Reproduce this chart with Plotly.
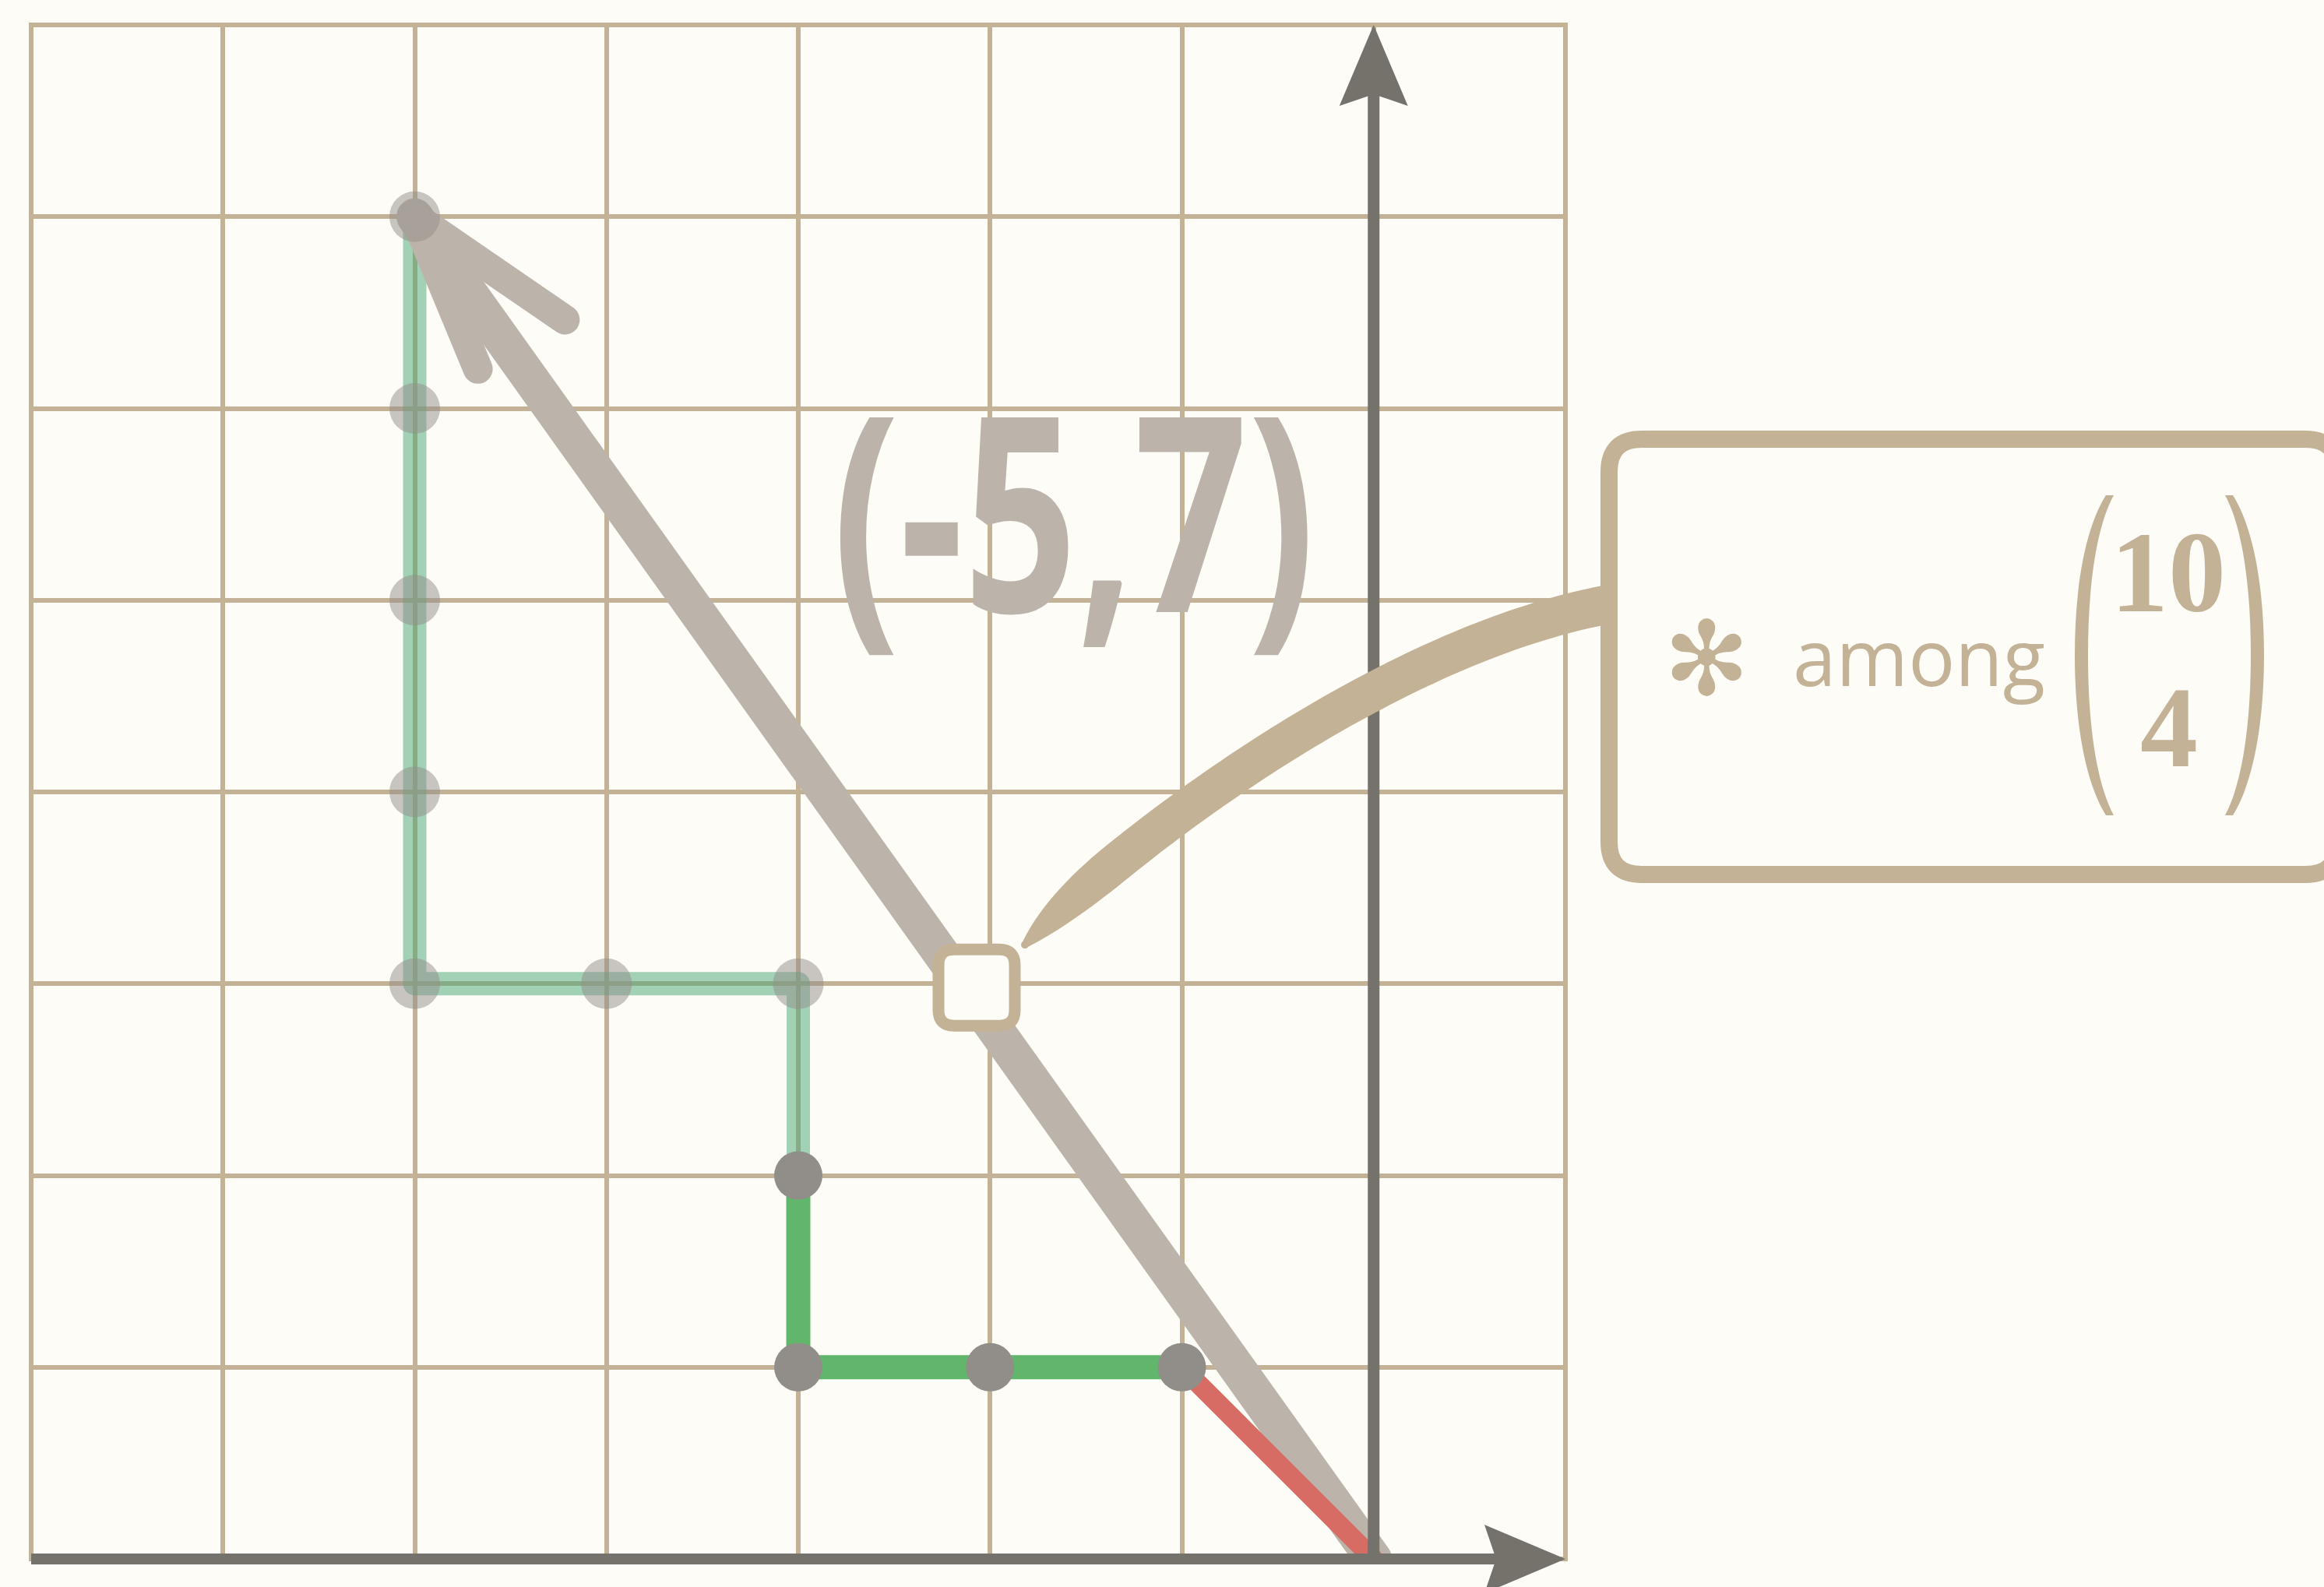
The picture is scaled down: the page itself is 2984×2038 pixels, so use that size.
import numpy as np
import plotly.graph_objects as go

# ---------------- data ----------------
x_range = [-7, 1]
y_range = [0, 8]
grid_x = list(range(-7, 2))
grid_y = list(range(0, 9))

visited_path_x = [-5, -5, -5, -5, -5, -4, -3, -3]
visited_path_y = [7, 6, 5, 4, 3, 3, 3, 2]
visited_dots_x = [-5, -5, -5, -5, -5, -4, -3]
visited_dots_y = [7, 6, 5, 4, 3, 3, 3]

current_path_x = [-3, -3, -2, -1]
current_path_y = [2, 1, 1, 1]
current_dots_x = [-3, -3, -2, -1]
current_dots_y = [2, 1, 1, 1]

final_step_x = [-1, 0]
final_step_y = [1, 0]

vector_x = [0, -5]
vector_y = [0, 7]
vector_label = "(-5,7)"

note_symbol = "\u273B"
note_word = "among"
binom_top = "10"
binom_bottom = "4"

# ---------------- style / layout constants ----------------
W, H = 2984, 2038
PL, PT, PS = 40, 32, 1970          # plot-area left, top, size (square)
BG = "#fefcf7"
TAN = "#c4b296"
DARK = "#75716b"
ARROW = "#bcb4ab"
DOT = "#918e89"
DOT_FADED = "rgba(145,142,137,0.5)"
GREEN = "#62b66b"
GREEN_FADED = "rgba(72,165,118,0.5)"
RED = "#d76c64"

label_pos = (-1.566, 5.49)
callout_anchor = (-2.07, 2.98)


def d2px(x, y):
    px = PL + (x - x_range[0]) / (x_range[1] - x_range[0]) * PS
    py = PT + (y_range[1] - y) / (y_range[1] - y_range[0]) * PS
    return px, py


def p2paper(px, py):
    return (px - PL) / PS, (PT + PS - py) / PS


def mkpath(cmds, close=True):
    out = []
    for c, pts in cmds:
        coords = " ".join("%.5f,%.5f" % p2paper(*p) for p in pts)
        out.append(c + coords)
    s = " ".join(out)
    return s + (" Z" if close else "")


def rrect(x0, y0, x1, y1, r):
    return mkpath([
        ("M", [(x0 + r, y0)]), ("L", [(x1 - r, y0)]), ("Q", [(x1, y0), (x1, y0 + r)]),
        ("L", [(x1, y1 - r)]), ("Q", [(x1, y1), (x1 - r, y1)]),
        ("L", [(x0 + r, y1)]), ("Q", [(x0, y1), (x0, y1 - r)]),
        ("L", [(x0, y0 + r)]), ("Q", [(x0, y0), (x0 + r, y0)]),
    ])


fig = go.Figure()

# faded (already visited) lattice path
fig.add_trace(go.Scatter(x=visited_path_x, y=visited_path_y, mode="lines",
                         line=dict(color=GREEN_FADED, width=30), hoverinfo="skip"))

# the big vector arrow (shaft + two barbs computed from the vector)
fig.add_trace(go.Scatter(x=vector_x, y=vector_y, mode="lines",
                         line=dict(color=ARROW, width=47), hoverinfo="skip"))
hx, hy = vector_x[1], vector_y[1]
back = np.degrees(np.arctan2(vector_y[0] - hy, vector_x[0] - hx))
for dang, ln in [(20, 0.95), (-13, 0.86)]:
    a = np.radians(back + dang)
    fig.add_trace(go.Scatter(x=[hx, hx + ln * np.cos(a)], y=[hy, hy + ln * np.sin(a)],
                             mode="lines", line=dict(color=ARROW, width=38), hoverinfo="skip"))

# current lattice path
fig.add_trace(go.Scatter(x=current_path_x, y=current_path_y, mode="lines",
                         line=dict(color=GREEN, width=31), hoverinfo="skip"))
# final step
fig.add_trace(go.Scatter(x=final_step_x, y=final_step_y, mode="lines",
                         line=dict(color=RED, width=25), hoverinfo="skip"))
# dots
fig.add_trace(go.Scatter(x=visited_dots_x, y=visited_dots_y, mode="markers",
                         marker=dict(color=DOT_FADED, size=65, line=dict(width=0)),
                         cliponaxis=False, hoverinfo="skip"))
fig.add_trace(go.Scatter(x=current_dots_x, y=current_dots_y, mode="markers",
                         marker=dict(color=DOT, size=62, line=dict(width=0)),
                         cliponaxis=False, hoverinfo="skip"))

shapes = []
# plot border
shapes.append(dict(type="rect", xref="paper", yref="paper", x0=0, y0=0, x1=1, y1=1,
                   line=dict(color=TAN, width=6), layer="below"))

# axes (dark, with arrowheads)
ox, oy = d2px(0, 0)
tx, ty = d2px(x_range[1], 0)
ux, uy = d2px(0, y_range[1])
AL, AW, AN = 104, 44, 89
x0p, y0p = p2paper(PL, oy)
x1p, _ = p2paper(tx - AN, oy)
shapes.append(dict(type="line", xref="paper", yref="paper", x0=x0p, y0=y0p, x1=x1p, y1=y0p,
                   line=dict(color=DARK, width=14), layer="above"))
xa, ya0 = p2paper(ox, oy + 7)
_, ya1 = p2paper(ox, uy + AN)
shapes.append(dict(type="line", xref="paper", yref="paper", x0=xa, y0=ya0, x1=xa, y1=ya1,
                   line=dict(color=DARK, width=15), layer="above"))
shapes.append(dict(type="path", xref="paper", yref="paper", layer="above",
                   path=mkpath([("M", [(tx, ty)]), ("L", [(tx - AL, ty - AW)]), ("L", [(tx - AN, ty)]),
                                ("L", [(tx - AL, ty + AW)])]),
                   fillcolor=DARK, line=dict(width=0)))
shapes.append(dict(type="path", xref="paper", yref="paper", layer="above",
                   path=mkpath([("M", [(ux, uy)]), ("L", [(ux + AW, uy + AL)]), ("L", [(ux, uy + AN)]),
                                ("L", [(ux - AW, uy + AL)])]),
                   fillcolor=DARK, line=dict(width=0)))

# callout anchor square
sx, sy = d2px(*callout_anchor)
shapes.append(dict(type="path", xref="paper", yref="paper", layer="above",
                   path=rrect(sx - 49, sy - 49, sx + 49, sy + 49, 20),
                   fillcolor=BG, line=dict(color=TAN, width=15)))

# tapered connector curve to the note box
BOX = (2066, 564, 3002, 1123)
P = np.array([[sx + 62, sy - 55], [1430, 1095], [1770, 830], [BOX[0], 776]], dtype=float)
ts = np.linspace(0, 1, 90)
B = ((1 - ts) ** 3)[:, None] * P[0] + (3 * (1 - ts) ** 2 * ts)[:, None] * P[1] \
    + (3 * (1 - ts) * ts ** 2)[:, None] * P[2] + (ts ** 3)[:, None] * P[3]
D = (3 * (1 - ts) ** 2)[:, None] * (P[1] - P[0]) + (6 * (1 - ts) * ts)[:, None] * (P[2] - P[1]) \
    + (3 * ts ** 2)[:, None] * (P[3] - P[2])
Nrm = np.stack([-D[:, 1], D[:, 0]], axis=1)
Nrm /= np.linalg.norm(Nrm, axis=1)[:, None]
wid = 9 + 41 * (1 - (1 - np.clip(ts / 0.24, 0, 1)) ** 2)
left = B + Nrm * (wid / 2)[:, None]
right = B - Nrm * (wid / 2)[:, None]
outline = [("M", [tuple(left[0])])] + [("L", [tuple(p)]) for p in left[1:]] + \
          [("L", [tuple(p)]) for p in right[::-1]]
shapes.append(dict(type="path", xref="paper", yref="paper", layer="above",
                   path=mkpath(outline), fillcolor=TAN, line=dict(width=0)))
shapes.append(dict(type="circle", xref="paper", yref="paper", layer="above",
                   x0=p2paper(P[0][0] - 5, 0)[0], x1=p2paper(P[0][0] + 5, 0)[0],
                   y0=p2paper(0, P[0][1] + 5)[1], y1=p2paper(0, P[0][1] - 5)[1],
                   fillcolor=TAN, line=dict(width=0)))

# note box
shapes.append(dict(type="path", xref="paper", yref="paper", layer="above",
                   path=rrect(*BOX, 42), fillcolor=BG, line=dict(color=TAN, width=22)))


# binomial parentheses
def paren(side):
    f = (lambda x: x) if side > 0 else (lambda x: 5571 - x)
    return mkpath([
        ("M", [(f(2704), 636)]),
        ("C", [(f(2676), 680), (f(2664), 760), (f(2664), 841)]),
        ("C", [(f(2664), 922), (f(2676), 1002), (f(2704), 1047)]),
        ("L", [(f(2714), 1047)]),
        ("C", [(f(2690), 1002), (f(2681), 922), (f(2681), 841)]),
        ("C", [(f(2681), 760), (f(2690), 680), (f(2714), 636)]),
    ])


for side in (1, -1):
    shapes.append(dict(type="path", xref="paper", yref="paper", layer="above",
                       path=paren(side), fillcolor=TAN, line=dict(width=0)))

annotations = []
annotations.append(dict(x=label_pos[0], y=label_pos[1], xref="x", yref="y", text=vector_label,
                        showarrow=False, xanchor="center", yanchor="middle",
                        font=dict(family="Noto Sans", size=350, color=ARROW, weight="bold")))


def pa(px, py, text, family, size, xanchor="center", weight="normal"):
    xp, yp = p2paper(px, py)
    annotations.append(dict(x=xp, y=yp, xref="paper", yref="paper", text=text, showarrow=False,
                            xanchor=xanchor, yanchor="middle",
                            font=dict(family=family, size=size, color=TAN, weight=weight)))


pa(2191, 846, note_symbol, "DejaVu Sans", 132)
pa(2300, 842, note_word, "Open Sans", 100, xanchor="left")
pa(2784, 735, binom_top, "Liberation Serif", 148, weight="bold")
pa(2785, 934, binom_bottom, "Liberation Serif", 148, weight="bold")

fig.update_layout(
    width=W, height=H,
    margin=dict(l=PL, r=W - PL - PS, t=PT, b=H - PT - PS, autoexpand=False),
    paper_bgcolor=BG, plot_bgcolor=BG,
    showlegend=False,
    shapes=shapes, annotations=annotations,
    xaxis=dict(range=x_range, tickvals=grid_x, showgrid=True, gridcolor=TAN, gridwidth=6,
               zeroline=False, showline=False, showticklabels=False, ticks="", fixedrange=True),
    yaxis=dict(range=y_range, tickvals=grid_y, showgrid=True, gridcolor=TAN, gridwidth=6,
               zeroline=False, showline=False, showticklabels=False, ticks="", fixedrange=True),
)

css = (".js-line{stroke-linecap:round;stroke-linejoin:round}"
       "g.annotation[data-index=\"0\"] text.annotation-text{transform:scaleX(0.73);"
       "transform-box:fill-box;transform-origin:center}")
post = ("document.body.style.margin='0';document.body.style.overflow='hidden';"
        "var s=document.createElement('style');"
        "s.textContent='" + css.replace("'", "\\'") + "';"
        "document.head.appendChild(s);")
fig.write_html("out.html", post_script=post, config={"displayModeBar": False})
